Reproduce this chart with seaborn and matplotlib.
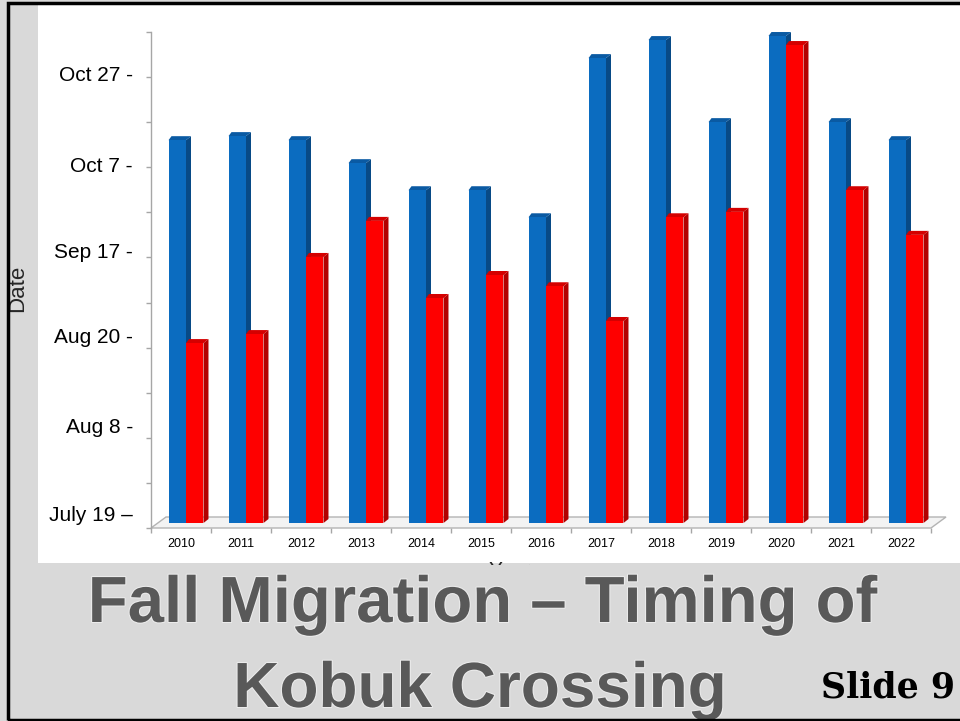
import matplotlib
matplotlib.use("Agg")
import numpy as np
import pandas as pd
import seaborn as sns
import matplotlib.pyplot as plt
from matplotlib.patches import Rectangle, Polygon
from matplotlib.transforms import offset_copy
import matplotlib.patheffects as pe

# ---- data (values in axis tick steps above the floor) ----
years = [str(y) for y in range(2010, 2023)]
late_crossing = [8.49, 8.58, 8.49, 7.98, 7.38, 7.38, 6.78, 10.31, 10.71, 8.89, 10.80, 8.89, 8.49]
early_crossing = [3.99, 4.19, 5.90, 6.70, 4.99, 5.50, 5.25, 4.48, 6.78, 6.90, 10.60, 7.38, 6.39]
date_labels = ["July 19 \u2013", "Aug 8 -", "Aug 20 -", "Sep 17 -", "Oct 7 -", "Oct 27 -"]
date_label_pos = [0.33, 2.28, 4.28, 6.16, 8.07, 10.09]
minor_steps = list(range(12))

BLUE, BLUE_SIDE, BLUE_CAP = "#0b6cc0", "#084a86", "#0a5aa3"
RED, RED_SIDE, RED_CAP = "#fe0000", "#b30000", "#d40000"

sns.set_theme(style="white")
plt.rcParams["font.family"] = ["Liberation Sans", "DejaVu Sans"]

W, H = 960, 721
fig = plt.figure(figsize=(W / 100, H / 100), dpi=100)
fig.patch.set_facecolor("#d9d9d9")


def fx(px):
    return px / W


def fy(py):
    return 1 - py / H


# white chart panel
fig.add_artist(Rectangle((fx(38), fy(563)), fx(960 - 38), (563 - 4) / H,
                         transform=fig.transFigure, fc="white", ec="none", zorder=-2))

ax = fig.add_axes([fx(151), fy(528), fx(931) - fx(151), (528 - 32) / H])
ax.set_facecolor("none")

df = pd.DataFrame({
    "year": years * 2,
    "value": late_crossing + early_crossing,
    "series": ["late"] * len(years) + ["early"] * len(years),
})
sns.barplot(data=df, x="year", y="value", hue="series", hue_order=["late", "early"],
            palette={"late": BLUE, "early": RED}, width=0.583, saturation=1,
            dodge=True, legend=False, linewidth=0, ax=ax)

ax.set_xlim(-0.5, len(years) - 0.5)
ax.set_ylim(0, 11)

pos = ax.get_position()
px_x = pos.width * W / len(years)
px_y = pos.height * H / 11

# bars sit half way back on the 3-D floor
shift = offset_copy(ax.transData, fig=fig, x=5, y=5, units="dots")
ddx, ddy = 5 / px_x, 4 / px_y

late_bars, early_bars = ax.containers[0], ax.containers[1]
z = 2.0
for i in range(len(years)):
    for bar, side_c, cap_c in ((late_bars[i], BLUE_SIDE, BLUE_CAP),
                               (early_bars[i], RED_SIDE, RED_CAP)):
        bar.set_transform(shift)
        bar.set_zorder(3)
        bar.set_clip_on(False)
        x0 = bar.get_x()
        x1 = x0 + bar.get_width()
        h = bar.get_height()
        side = Polygon([(x1, 0), (x1, h), (x1 + ddx, h + ddy), (x1 + ddx, ddy)],
                       closed=True, fc=side_c, ec="none", transform=shift,
                       zorder=z, clip_on=False)
        cap = Polygon([(x0, h), (x1, h), (x1 + ddx, h + ddy), (x0 + ddx * 0.6, h + ddy)],
                      closed=True, fc=cap_c, ec="none", transform=shift,
                      zorder=z + 0.001, clip_on=False)
        ax.add_patch(side)
        ax.add_patch(cap)
        z += 0.002

# floor
fdx, fdy = 15 / px_x, 11 / px_y
x_lo, x_hi = -0.5, len(years) - 0.5
floor = Polygon([(x_lo, 0), (x_hi, 0), (x_hi + fdx, fdy), (x_lo + fdx, fdy)],
                closed=True, fc="#f3f3f3", ec="#b3b3b3", lw=1.0, zorder=1, clip_on=False)
ax.add_patch(floor)

# axes styling
for s in ("top", "right", "bottom"):
    ax.spines[s].set_visible(False)
ax.spines["left"].set_color("#a6a6a6")
ax.spines["left"].set_linewidth(1.0)

ax.set_yticks(date_label_pos, date_labels)
ax.set_yticks(minor_steps, minor=True)
ax.tick_params(axis="y", which="major", length=0, pad=13, labelsize=15, labelcolor="black")
ax.tick_params(axis="y", which="minor", length=3.5, width=1, color="#a6a6a6", left=True)

ax.set_xticks(range(len(years)), years)
ax.set_xticks(np.arange(-0.5, len(years), 1.0), minor=True)
ax.tick_params(axis="x", which="major", length=0, pad=7, labelsize=9, labelcolor="black")
ax.tick_params(axis="x", which="minor", length=3.5, width=1, color="#a6a6a6", bottom=True)
ax.set_xlabel("")
ax.set_ylabel("")

fig.text(fx(18), fy(288), "Date", rotation=90, ha="center", va="center", fontsize=16)
fig.text(fx(510), fy(561), "Year", ha="center", va="top", fontsize=15, zorder=1)

# title band
fig.add_artist(Rectangle((0, 0), 1, fy(565), transform=fig.transFigure,
                         fc="#d9d9d9", ec="none", zorder=4))
title_fx = [pe.withStroke(linewidth=1.5, foreground="#ececec")]
fig.text(fx(482), fy(622), "Fall Migration \u2013 Timing of", ha="center", va="baseline",
         fontsize=47, fontweight="bold", color="#595959", zorder=6, path_effects=title_fx)
fig.text(fx(480), fy(707), "Kobuk Crossing", ha="center", va="baseline",
         fontsize=46, fontweight="bold", color="#595959", zorder=6, path_effects=title_fx)
fig.text(fx(955), fy(698), "Slide 9", ha="right", va="baseline", family="DejaVu Serif",
         fontweight="bold", fontsize=25, color="black", zorder=6)

# slide border
fig.add_artist(Rectangle((fx(8), fy(720)), fx(970 - 8), (720 - 3) / H,
                         transform=fig.transFigure, fill=False, ec="black", lw=2.5,
                         zorder=10, clip_on=False))

fig.savefig("out.png", dpi=100)
